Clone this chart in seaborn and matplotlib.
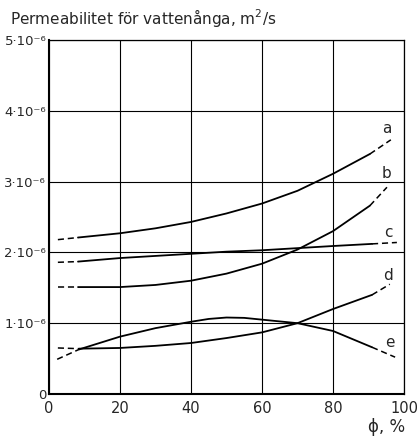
import numpy as np
import pandas as pd
import matplotlib
matplotlib.use("Agg")
import matplotlib.pyplot as plt
import seaborn as sns

# Relative humidity (%) and permeability (in 1e-6 m2/s).
# First two and last two points of each curve are the dashed extrapolations.
a_x = [2.5, 8.2, 20, 30, 40, 50, 60, 70, 80, 90.4, 96.3]
a_y = [2.18, 2.21, 2.27, 2.34, 2.43, 2.55, 2.69, 2.87, 3.11, 3.39, 3.59]

b_x = [2.5, 8.2, 20, 30, 40, 50, 60, 70, 80, 90.4, 95.2]
b_y = [1.51, 1.51, 1.51, 1.54, 1.60, 1.70, 1.84, 2.04, 2.30, 2.66, 2.92]

c_x = [2.5, 8.2, 20, 30, 40, 50, 60, 70, 80, 91, 98]
c_y = [1.86, 1.87, 1.92, 1.95, 1.98, 2.01, 2.03, 2.06, 2.09, 2.12, 2.14]

d_x = [2.5, 8.5, 20, 30, 40, 50, 60, 70, 80, 91, 96]
d_y = [0.65, 0.64, 0.65, 0.68, 0.72, 0.79, 0.87, 1.00, 1.20, 1.40, 1.55]

e_x = [2.3, 8.5, 20, 30, 40, 45, 50, 55, 60, 70, 80, 91, 97.5]
e_y = [0.49, 0.63, 0.81, 0.93, 1.02, 1.06, 1.08, 1.075, 1.05, 1.00, 0.89, 0.66, 0.52]

curves = {"a": (a_x, a_y), "b": (b_x, b_y), "c": (c_x, c_y),
          "d": (d_x, d_y), "e": (e_x, e_y)}

# curve letter positions
label_pos = {"a": (95.2, 3.75), "b": (95.2, 3.11), "c": (95.6, 2.28),
             "d": (95.6, 1.68), "e": (96.0, 0.73)}

y_ticks = [0, 1, 2, 3, 4, 5]
y_labels = ["0", "1·10⁻⁶", "2·10⁻⁶", "3·10⁻⁶", "4·10⁻⁶", "5·10⁻⁶"]
x_ticks = [0, 20, 40, 60, 80, 100]

sns.set_style("white")
plt.rcParams['font.family'] = ['DejaVu Sans']

fig = plt.figure(figsize=(4.17, 4.38), dpi=100)
ax = fig.add_axes([0.1175, 0.1005, 0.8513, 0.8082])

for name, (xs, ys) in curves.items():
    df = pd.DataFrame({"x": xs, "y": ys})
    sns.lineplot(data=df.iloc[1:-1], x="x", y="y", color="black", lw=1.3, ax=ax)
    sns.lineplot(data=df.iloc[:2], x="x", y="y", color="black", lw=1.1,
                 ax=ax, linestyle=(0, (4, 2.5)))
    sns.lineplot(data=df.iloc[-2:], x="x", y="y", color="black", lw=1.1,
                 ax=ax, linestyle=(0, (4, 2.5)))
    lx, ly = label_pos[name]
    ax.text(lx, ly, name, ha="center", va="center", fontsize=11)

ax.set_xlim(0, 100)
ax.set_ylim(0, 5)
ax.set_xticks(x_ticks)
ax.set_yticks(y_ticks)
ax.set_yticklabels(y_labels, fontsize=9.5)
ax.tick_params(length=0)
ax.tick_params(axis="x", pad=5, labelsize=10.5)
ax.tick_params(axis="y", pad=2)
ax.grid(True, color="black", lw=0.8)
for s in ax.spines.values():
    s.set_color("black")
    s.set_linewidth(0.9)
ax.spines["left"].set_linewidth(1.5)
ax.spines["bottom"].set_linewidth(1.5)
ax.set_xlabel("")
ax.set_ylabel("")

fig.text(0.024, 0.958, "Permeabilitet för vattenånga, m$^2$/s", ha="left",
         va="center", fontsize=11)
fig.text(0.972, 0.024, "ϕ, %", ha="right", va="center", fontsize=12)

fig.savefig("out.png", dpi=100)
